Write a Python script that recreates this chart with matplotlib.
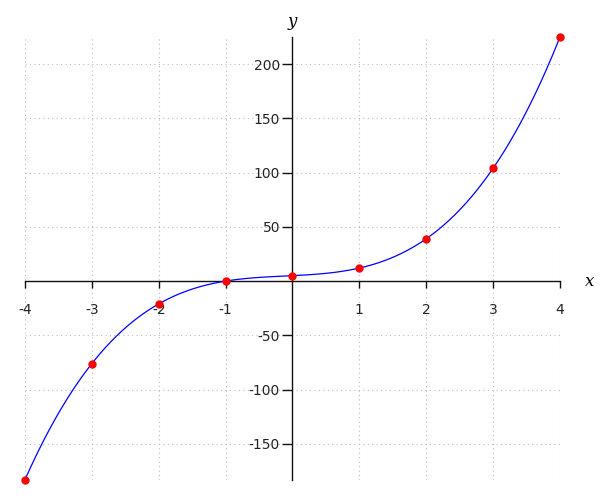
import numpy as np
import matplotlib
matplotlib.use("Agg")
import matplotlib.pyplot as plt

# sample points
xs = [-4, -3, -2, -1, 0, 1, 2, 3, 4]
ys = [-183, -76, -21, 0, 5, 12, 39, 104, 225]

xticks = [-4, -3, -2, -1, 1, 2, 3, 4]
yticks = [-150, -100, -50, 50, 100, 150, 200]

# smooth curve: cubic through the sample points
coef = np.polyfit(xs, ys, 3)
xc = np.linspace(min(xs), max(xs), 400)
yc = np.polyval(coef, xc)

fig = plt.figure(figsize=(6, 5), dpi=100)
ax = fig.add_axes([0.0417, 0.0408, 0.8916, 0.8852])

ax.plot(xc, yc, color="blue", lw=0.9, zorder=3)
ax.plot(xs, ys, "o", color="red", ms=5, zorder=4, clip_on=False)

ax.set_xlim(min(xs), max(xs))
ax.set_ylim(min(ys), max(ys))

ax.spines["left"].set_position(("data", 0))
ax.spines["bottom"].set_position(("data", 0))
ax.spines["right"].set_visible(False)
ax.spines["top"].set_visible(False)
for s in ("left", "bottom"):
    ax.spines[s].set_linewidth(1.0)
    ax.spines[s].set_color("#111111")

ax.set_xticks(xticks)
ax.set_yticks(yticks)
ax.set_xticklabels([str(t) for t in xticks])
ax.set_yticklabels([str(t) for t in yticks])
ax.tick_params(axis="x", direction="out", length=5, width=1, pad=11,
               labelsize=10, colors="#111111", labelcolor="#222222")
ax.tick_params(axis="y", direction="out", length=7, width=1, pad=2,
               labelsize=10, colors="#111111", labelcolor="#222222")

# dotted grid, including the outer x lines
ax.grid(True, ls=(0, (1, 3)), color="#bbbbbb", lw=0.8, zorder=0)
ax.set_axisbelow(True)

ax.text(0, 1.015, "y", transform=ax.get_xaxis_transform(), ha="center",
        va="bottom", fontsize=12, family="DejaVu Serif", style="italic")
ax.text(1.055, 0, "x", transform=ax.get_yaxis_transform(), ha="center",
        va="center", fontsize=12, family="DejaVu Serif", style="italic")

fig.savefig("out.png", dpi=100)
